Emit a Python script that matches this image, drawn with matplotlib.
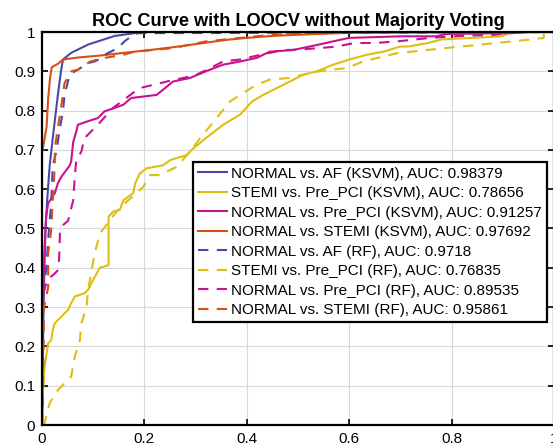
import matplotlib
matplotlib.use('Agg')
import matplotlib.pyplot as plt

plt.rcParams['font.family'] = ['Liberation Sans', 'DejaVu Sans']

# ---------------- ROC points ----------------
# NORMAL vs. AF (KSVM)
af_ksvm_fpr = [0, 0.003, 0.005, 0.007, 0.01, 0.015, 0.021, 0.031, 0.037, 0.041, 0.057, 0.09, 0.142, 0.181, 0.2, 1]
af_ksvm_tpr = [0, 0.3, 0.42, 0.5, 0.57, 0.66, 0.73, 0.84, 0.9, 0.93, 0.947, 0.968, 0.99, 0.997, 1, 1]

# STEMI vs. Pre_PCI (KSVM)
sp_ksvm_fpr = [0, 0.002, 0.005, 0.012, 0.018, 0.021, 0.025, 0.031, 0.038, 0.044, 0.051, 0.057, 0.064, 0.083,
               0.09, 0.1, 0.113, 0.13, 0.13, 0.139, 0.152, 0.159, 0.178, 0.182, 0.191, 0.204, 0.237, 0.25,
               0.283, 0.292, 0.32, 0.354, 0.387, 0.41, 0.432, 0.458, 0.484, 0.51, 0.537, 0.569, 0.6, 0.634,
               0.667, 0.7, 0.715, 0.754, 0.78, 0.898, 0.91, 0.95, 1]
sp_ksvm_tpr = [0, 0.09, 0.148, 0.208, 0.216, 0.242, 0.259, 0.267, 0.276, 0.284, 0.293, 0.31, 0.327, 0.335,
               0.344, 0.37, 0.4, 0.407, 0.53, 0.543, 0.547, 0.572, 0.59, 0.615, 0.64, 0.653, 0.661, 0.674,
               0.687, 0.7, 0.73, 0.764, 0.79, 0.823, 0.84, 0.857, 0.874, 0.891, 0.9, 0.917, 0.93, 0.942,
               0.95, 0.963, 0.963, 0.972, 0.981, 0.989, 0.997, 1, 1]

# NORMAL vs. Pre_PCI (KSVM)
np_ksvm_fpr = [0, 0.002, 0.005, 0.008, 0.012, 0.025, 0.031, 0.038, 0.054, 0.057, 0.061, 0.067, 0.07, 0.09,
               0.109, 0.122, 0.142, 0.159, 0.174, 0.224, 0.256, 0.289, 0.32, 0.354, 0.387, 0.419, 0.445,
               0.49, 0.537, 0.582, 0.6, 0.7, 0.77, 0.79, 0.917, 0.95, 1]
np_ksvm_tpr = [0, 0.3, 0.45, 0.53, 0.564, 0.59, 0.615, 0.632, 0.66, 0.671, 0.72, 0.747, 0.764, 0.773,
               0.781, 0.798, 0.807, 0.815, 0.832, 0.84, 0.874, 0.883, 0.9, 0.917, 0.925, 0.934, 0.95,
               0.954, 0.967, 0.98, 0.985, 0.989, 0.989, 0.995, 0.997, 1, 1]

# NORMAL vs. STEMI (KSVM)
ns_ksvm_fpr = [0, 0, 0.004, 0.009, 0.012, 0.016, 0.019, 0.032, 0.041, 0.07, 0.113, 0.16, 0.21, 0.26, 0.31,
               0.36, 0.4, 0.45, 0.5, 0.6, 1]
ns_ksvm_tpr = [0, 0.695, 0.72, 0.76, 0.83, 0.886, 0.91, 0.92, 0.93, 0.935, 0.94, 0.947, 0.954, 0.962, 0.971,
               0.98, 0.985, 0.99, 0.993, 0.998, 1]

# NORMAL vs. AF (RF)
af_rf_fpr = [0, 0.002, 0.003, 0.008, 0.012, 0.015, 0.018, 0.021, 0.028, 0.035, 0.041, 0.044, 0.054, 0.064,
             0.07, 0.09, 0.103, 0.116, 0.122, 0.148, 0.161, 0.174, 0.1875, 1]
af_rf_tpr = [0, 0.15, 0.344, 0.394, 0.47, 0.52, 0.564, 0.66, 0.696, 0.756, 0.798, 0.84, 0.891, 0.9,
             0.904, 0.921, 0.925, 0.934, 0.942, 0.959, 0.976, 0.989, 0.997, 1]

# STEMI vs. Pre_PCI (RF)
sp_rf_fpr = [0, 0.005, 0.015, 0.031, 0.057, 0.064, 0.074, 0.077, 0.087, 0.09, 0.103, 0.113, 0.132, 0.148,
             0.165, 0.198, 0.211, 0.23, 0.263, 0.289, 0.309, 0.341, 0.367, 0.387, 0.419, 0.445, 0.484,
             0.523, 0.5625, 0.595, 0.627, 0.693, 0.722, 0.787, 0.85, 0.917, 0.956, 0.98, 0.98, 1]
sp_rf_tpr = [0, 0.005, 0.056, 0.089, 0.123, 0.174, 0.216, 0.259, 0.3, 0.344, 0.437, 0.487, 0.52, 0.547,
             0.568, 0.606, 0.636, 0.636, 0.657, 0.696, 0.73, 0.781, 0.823, 0.84, 0.866, 0.879, 0.883,
             0.896, 0.904, 0.908, 0.925, 0.946, 0.95, 0.959, 0.967, 0.976, 0.981, 0.985, 1, 1]

# NORMAL vs. Pre_PCI (RF)
np_rf_fpr = [0, 0, 0.004, 0.01, 0.022, 0.032, 0.034, 0.035, 0.038, 0.051, 0.061, 0.064, 0.067, 0.077,
             0.083, 0.096, 0.109, 0.139, 0.19, 0.244, 0.3, 0.354, 0.387, 0.42, 0.47, 0.5, 0.55, 0.576,
             0.61, 0.65, 0.693, 0.758, 0.816, 0.885, 0.92, 1]
np_rf_tpr = [0, 0.25, 0.34, 0.37, 0.382, 0.395, 0.44, 0.49, 0.505, 0.52, 0.572, 0.632, 0.674, 0.696,
             0.73, 0.747, 0.764, 0.807, 0.857, 0.874, 0.89, 0.925, 0.93, 0.94, 0.954, 0.955, 0.96, 0.963,
             0.972, 0.972, 0.976, 0.985, 0.99, 0.993, 1, 1]

# NORMAL vs. STEMI (RF)
ns_rf_fpr = [0, 0.002, 0.004, 0.012, 0.012, 0.018, 0.021, 0.025, 0.025, 0.038, 0.044, 0.057, 0.07, 0.094,
             0.122, 0.159, 0.181, 0.256, 0.32, 0.387, 0.45, 0.52, 0.6, 1]
ns_rf_tpr = [0, 0.1, 0.3, 0.35, 0.437, 0.496, 0.572, 0.657, 0.705, 0.815, 0.87, 0.9, 0.904, 0.925,
             0.934, 0.942, 0.95, 0.959, 0.976, 0.985, 0.993, 0.997, 1, 1]

labels = [
    'NORMAL vs. AF (KSVM), AUC: 0.98379',
    'STEMI vs. Pre_PCI (KSVM), AUC: 0.78656',
    'NORMAL vs. Pre_PCI (KSVM), AUC: 0.91257',
    'NORMAL vs. STEMI (KSVM), AUC: 0.97692',
    'NORMAL vs. AF (RF), AUC: 0.9718',
    'STEMI vs. Pre_PCI (RF), AUC: 0.76835',
    'NORMAL vs. Pre_PCI (RF), AUC: 0.89535',
    'NORMAL vs. STEMI (RF), AUC: 0.95861',
]

c_blue = '#4848AC'
c_yellow = '#DFBE12'
c_magenta = '#C8128E'
c_red = '#D94E14'

fig = plt.figure(figsize=(5.53, 4.48), dpi=100)
ax = fig.add_axes([42 / 553, 23 / 448, 512 / 553, 393 / 448])

curves = [
    (af_ksvm_fpr, af_ksvm_tpr, c_blue, '-'),
    (sp_ksvm_fpr, sp_ksvm_tpr, c_yellow, '-'),
    (np_ksvm_fpr, np_ksvm_tpr, c_magenta, '-'),
    (ns_ksvm_fpr, ns_ksvm_tpr, c_red, '-'),
    (af_rf_fpr, af_rf_tpr, c_blue, '--'),
    (sp_rf_fpr, sp_rf_tpr, c_yellow, '--'),
    (np_rf_fpr, np_rf_tpr, c_magenta, '--'),
    (ns_rf_fpr, ns_rf_tpr, c_red, '--'),
]
for (x, y, c, ls), lab in zip(curves, labels):
    line, = ax.plot(x, y, color=c, linestyle=ls, linewidth=1.5, label=lab)
    if ls == '--':
        line.set_dashes((5, 4))

ax.set_xlim(0, 1)
ax.set_ylim(0, 1)
ax.set_xticks([0, 0.2, 0.4, 0.6, 0.8, 1])
ax.set_xticklabels(['0', '0.2', '0.4', '0.6', '0.8', '1'])
ax.set_yticks([i / 10 for i in range(11)])
ax.set_yticklabels(['0'] + ['0.%d' % i for i in range(1, 10)] + ['1'])
ax.tick_params(direction='in', top=True, right=True, labelsize=11, length=4, width=1.2, pad=5)
ax.grid(True, color='#d9d9d9', linewidth=0.8)
ax.set_axisbelow(True)
for sp in ax.spines.values():
    sp.set_linewidth(1.6)
    sp.set_color('black')

ax.set_title('ROC Curve with LOOCV without Majority Voting', fontsize=13.1, fontweight='bold', pad=4)

leg = ax.legend(loc='upper right', bbox_to_anchor=(0.986, 0.669), fontsize=11, frameon=True,
                fancybox=False, handlelength=1.9, handletextpad=0.3, labelspacing=0.36,
                borderpad=0.3, borderaxespad=0)
leg.get_frame().set_edgecolor('black')
leg.get_frame().set_linewidth(1.6)
leg.get_frame().set_alpha(1)

fig.savefig('out.png', dpi=100)
